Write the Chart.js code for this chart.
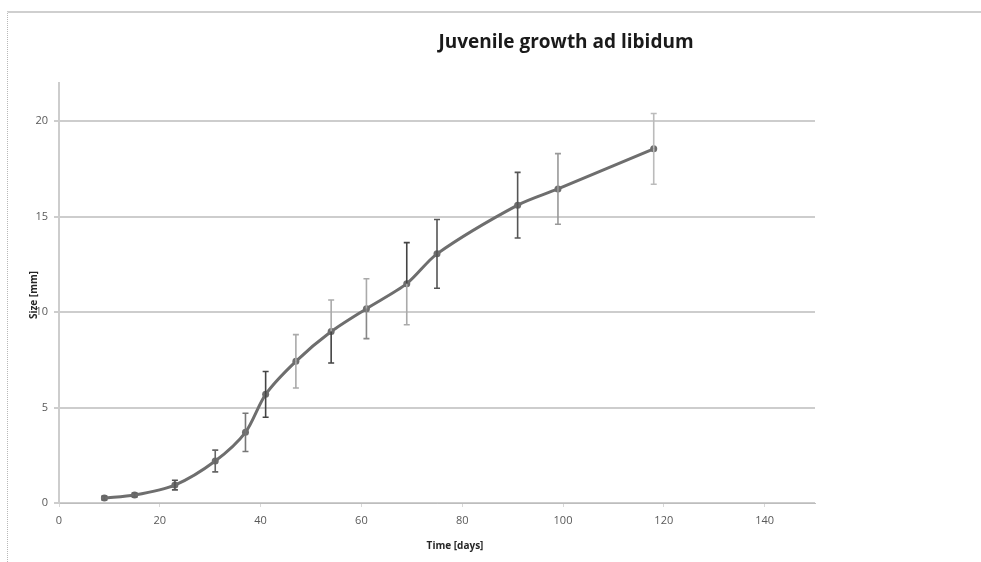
<!DOCTYPE html>
<html>
<head>
<meta charset="utf-8">
<style>
  html, body { margin: 0; padding: 0; background: #ffffff; }
  #wrap { position: relative; width: 981px; height: 562px; overflow: hidden; }
  #frame { position: absolute; left: 7px; top: 11px; right: -4px; bottom: -4px;
           border-top: 2px solid #cfcfcf; border-left: 1px dotted #b8b8b8; }
  canvas { position: absolute; left: 0; top: 0; }
</style>
<script src="https://cdn.jsdelivr.net/npm/chart.js@4/dist/chart.umd.min.js"></script>
</head>
<body>
<div id="wrap">
  <div id="frame"></div>
  <canvas id="c" width="981" height="562"></canvas>
</div>
<script>
// Juvenile growth, fed ad libitum: mean size per sampling day with +/- error
const days   = [9, 15, 23, 31, 37, 41, 47, 54, 61, 69, 75, 91, 99, 118];
const sizeMm = [0.26, 0.42, 0.94, 2.2, 3.7, 5.69, 7.42, 8.98, 10.18, 11.49, 13.05, 15.6, 16.45, 18.55];
const errMm  = [0.1, 0.1, 0.25, 0.57, 1.0, 1.2, 1.4, 1.65, 1.57, 2.15, 1.8, 1.72, 1.85, 1.85];

const xTicks = [0, 20, 40, 60, 80, 100, 120, 140];
const yTicks = [0, 5, 10, 15, 20];

const chartTitle = 'Juvenile growth ad libidum';
const xTitle = 'Time [days]';
const yTitle = 'Size [mm]';

// whisker shades (upper half, lower half) per point
const whiskerUp   = ['#666','#666','#555','#666','#777','#444','#aaa','#aaa','#aaa','#444','#555','#555','#999','#bbb'];
const whiskerDown = ['#666','#666','#555','#666','#777','#444','#aaa','#444','#888','#aaa','#555','#555','#999','#bbb'];

const points = days.map((d, i) => ({ x: d, y: sizeMm[i] }));

const errorBars = {
  id: 'errorBars',
  afterDatasetsDraw(chart) {
    const ctx = chart.ctx;
    const xs = chart.scales.x, ys = chart.scales.y;
    ctx.save();
    ctx.lineWidth = 1.6;
    days.forEach((d, i) => {
      const px = xs.getPixelForValue(d);
      const pm = ys.getPixelForValue(sizeMm[i]);
      const pt = ys.getPixelForValue(sizeMm[i] + errMm[i]);
      const pb = ys.getPixelForValue(sizeMm[i] - errMm[i]);
      const cap = 3;
      ctx.strokeStyle = whiskerUp[i];
      ctx.beginPath();
      ctx.moveTo(px, pm); ctx.lineTo(px, pt);
      ctx.moveTo(px - cap, pt); ctx.lineTo(px + cap, pt);
      ctx.stroke();
      ctx.strokeStyle = whiskerDown[i];
      ctx.beginPath();
      ctx.moveTo(px, pm); ctx.lineTo(px, pb);
      ctx.moveTo(px - cap, pb); ctx.lineTo(px + cap, pb);
      ctx.stroke();
    });
    ctx.restore();
  }
};

const titles = {
  id: 'titles',
  afterDraw(chart) {
    const ctx = chart.ctx;
    ctx.save();
    ctx.fillStyle = '#1a1a1a';
    ctx.textAlign = 'center';
    ctx.textBaseline = 'middle';
    ctx.font = 'bold 19px "Open Sans"';
    ctx.fillText(chartTitle, 566, 43);
    ctx.font = 'bold 10px "Open Sans"';
    ctx.fillStyle = '#262626';
    ctx.fillText(xTitle, 455, 546);
    ctx.translate(34, 295);
    ctx.rotate(-Math.PI / 2);
    ctx.fillText(yTitle, 0, 0);
    ctx.restore();
  }
};

new Chart(document.getElementById('c'), {
  type: 'line',
  data: {
    datasets: [{
      data: points,
      borderColor: '#6e6e6e',
      backgroundColor: '#6e6e6e',
      borderWidth: 3,
      tension: 0.28,
      pointRadius: 3.5,
      pointStyle: 'circle',
      pointBackgroundColor: '#6e6e6e',
      pointBorderWidth: 0,
      fill: false
    }]
  },
  options: {
    responsive: false,
    animation: false,
    layout: { padding: { top: 83, right: 166, left: 0, bottom: 0 } },
    plugins: { legend: { display: false }, tooltip: { enabled: false }, title: { display: false } },
    scales: {
      x: {
        type: 'linear',
        min: 0, max: 150,
        afterBuildTicks(s) { s.ticks = xTicks.map(v => ({ value: v })); },
        afterFit(s) { s.height = 59; },
        grid: { drawOnChartArea: false, drawTicks: true, tickLength: 4, color: '#d8d8d8', lineWidth: 1 },
        border: { color: '#bdbdbd', width: 1 },
        ticks: { font: { family: 'Open Sans', size: 11 }, color: '#595959', padding: 7, maxRotation: 0 }
      },
      y: {
        min: 0, max: 22,
        afterBuildTicks(s) { s.ticks = yTicks.map(v => ({ value: v })); },
        afterFit(s) { s.width = 59; },
        grid: { color: '#cdcdcd', lineWidth: 2, tickLength: 5 },
        border: { color: '#cdcdcd', width: 2 },
        ticks: { font: { family: 'Open Sans', size: 11 }, color: '#595959', padding: 6 }
      }
    }
  },
  plugins: [errorBars, titles]
});
</script>
</body>
</html>
